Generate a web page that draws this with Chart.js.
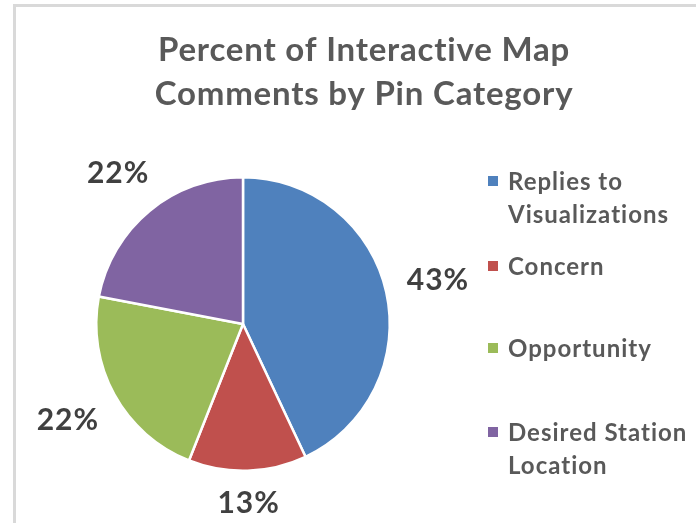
<!DOCTYPE html>
<html>
<head>
<meta charset="utf-8">
<script src="https://cdn.jsdelivr.net/npm/chart.js@4"></script>
<style>
  html, body { margin: 0; padding: 0; background: #ffffff; }
  #wrap { position: relative; width: 696px; height: 523px; }
</style>
</head>
<body>
<div id="wrap"><canvas id="c" width="696" height="523"></canvas></div>
<script>
// ---- data ----
const titleLines = ['Percent of Interactive Map', 'Comments by Pin Category'];
const categories = ['Replies to Visualizations', 'Concern', 'Opportunity', 'Desired Station Location'];
const values = [43, 13, 22, 22];
const colors = ['#4F81BD', '#C0504D', '#9BBB59', '#8064A2'];

const FONT = 'Lato, "Open Sans", sans-serif';

function wrapText(ctx, text, maxW) {
  const words = text.split(' ');
  const lines = [];
  let cur = '';
  for (const w of words) {
    const t = cur ? cur + ' ' + w : w;
    if (ctx.measureText(t).width > maxW && cur) { lines.push(cur); cur = w; }
    else cur = t;
  }
  if (cur) lines.push(cur);
  return lines;
}

const decorPlugin = {
  id: 'decor',
  beforeDraw(chart) {
    const ctx = chart.ctx;
    ctx.save();
    ctx.fillStyle = '#ffffff';
    ctx.fillRect(0, 0, chart.width, chart.height);
    // frame
    ctx.strokeStyle = '#d9d9d9';
    ctx.lineWidth = 3;
    ctx.beginPath();
    ctx.moveTo(14.5, chart.height + 5);
    ctx.lineTo(14.5, 5.5);
    ctx.lineTo(chart.width + 5, 5.5);
    ctx.stroke();
    // title
    ctx.fillStyle = '#595959';
    ctx.font = 'bold 33px ' + FONT;
    ctx.letterSpacing = '0.8px';
    ctx.textAlign = 'center';
    ctx.textBaseline = 'alphabetic';
    const titleBase = [61, 105];
    titleLines.forEach((l, i) => ctx.fillText(l, 364, titleBase[i]));
    ctx.restore();
  },
  afterDraw(chart) {
    const ctx = chart.ctx;
    const meta = chart.getDatasetMeta(0);
    const data = chart.data.datasets[0].data;
    const total = data.reduce((a, b) => a + b, 0);
    ctx.save();
    // data labels (outside end)
    ctx.font = 'bold 30px ' + FONT;
    ctx.letterSpacing = '1px';
    ctx.fillStyle = '#404040';
    ctx.textAlign = 'center';
    ctx.textBaseline = 'middle';
    meta.data.forEach((arc, i) => {
      const p = arc.getProps(['x', 'y', 'startAngle', 'endAngle', 'outerRadius'], true);
      const mid = (p.startAngle + p.endAngle) / 2;
      const txt = Math.round(data[i] / total * 100) + '%';
      const w = ctx.measureText(txt).width;
      const h = 24;
      const cx = Math.cos(mid), sy = Math.sin(mid);
      const ext = Math.abs(cx) * w / 2 + Math.abs(sy) * h / 2;
      const d = p.outerRadius + 20 + ext;
      ctx.fillText(txt, p.x + cx * d, p.y + sy * d);
    });
    // legend
    ctx.font = 'bold 24px ' + FONT;
    ctx.letterSpacing = '1px';
    ctx.textAlign = 'left';
    ctx.textBaseline = 'middle';
    const lineY = [[181, 214], [266], [348], [432, 465]];
    chart.data.labels.forEach((lab, i) => {
      const lines = wrapText(ctx, lab, 185);
      const ys = lineY[i];
      ctx.fillStyle = chart.data.datasets[0].backgroundColor[i];
      ctx.fillRect(488, ys[0] - 5, 10, 10);
      ctx.fillStyle = '#595959';
      lines.forEach((l, j) => {
        const y = ys[j] !== undefined ? ys[j] : ys[0] + 33 * j;
        ctx.fillText(l, 508, y + 1);
      });
    });
    ctx.restore();
  }
};

new Chart(document.getElementById('c'), {
  type: 'pie',
  data: {
    labels: categories,
    datasets: [{
      data: values,
      backgroundColor: colors,
      borderColor: '#ffffff',
      borderWidth: 2.5,
      hoverOffset: 0
    }]
  },
  options: {
    responsive: false,
    animation: false,
    devicePixelRatio: 1,
    layout: { padding: { left: 95, right: 305, top: 175, bottom: 50 } },
    plugins: {
      legend: { display: false },
      title: { display: false },
      tooltip: { enabled: false }
    }
  },
  plugins: [decorPlugin]
});
</script>
</body>
</html>
